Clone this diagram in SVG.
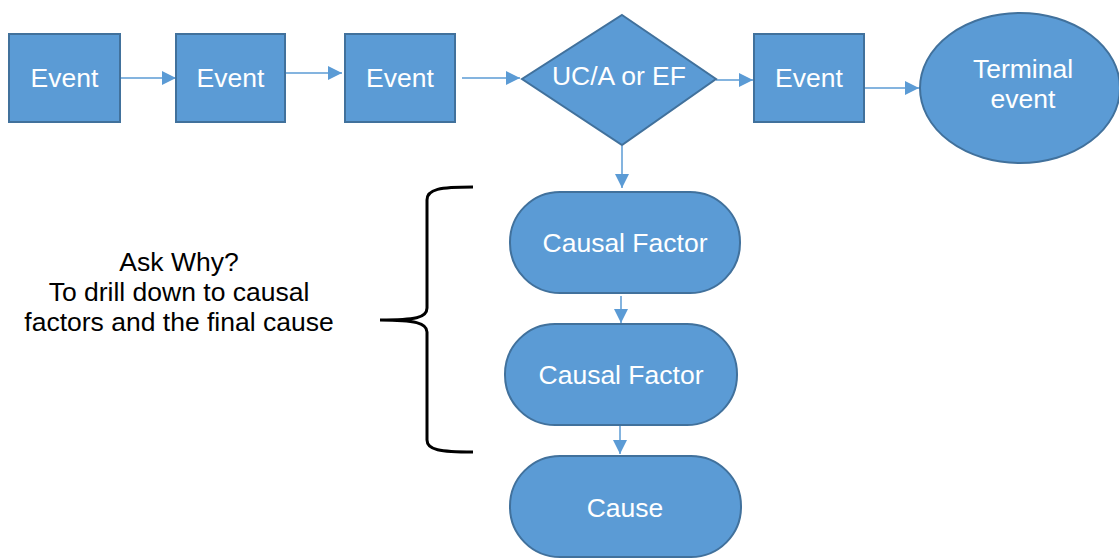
<svg xmlns="http://www.w3.org/2000/svg" width="1119" height="558" viewBox="0 0 1119 558">
<style>
.n{fill:#5B9BD5;stroke:#41719C;stroke-width:2}
.t{font-family:"Liberation Sans",Arial,sans-serif;font-size:26.5px;fill:#fff;text-anchor:middle}
.k{font-family:"Liberation Sans",Arial,sans-serif;font-size:26.5px;fill:#000;text-anchor:middle}
.c{stroke:#5B9BD5;stroke-width:1.5;fill:none;marker-end:url(#ah)}
</style>
<defs>
<marker id="ah" markerWidth="14" markerHeight="14" viewBox="0 0 14 14" refX="14" refY="7" orient="auto" markerUnits="userSpaceOnUse">
<path d="M0,0 L14,7 L0,14 Z" fill="#5B9BD5"/>
</marker>
</defs>
<g id="connectors">
<line class="c" x1="120" y1="78" x2="176" y2="78"/>
<line class="c" x1="285" y1="73" x2="342" y2="73"/>
<line class="c" x1="462" y1="78" x2="520" y2="78"/>
<line class="c" x1="716" y1="80" x2="753" y2="80"/>
<line class="c" x1="864" y1="88" x2="919" y2="88"/>
<line class="c" x1="622" y1="146" x2="622" y2="188"/>
<line class="c" x1="621" y1="296" x2="621" y2="323"/>
<line class="c" x1="620" y1="426" x2="620" y2="454"/>
</g>
<g id="event1"><rect class="n" x="9" y="34" width="111" height="88"/><text class="t" x="64.5" y="87">Event</text></g>
<g id="event2"><rect class="n" x="176" y="34" width="109" height="88"/><text class="t" x="230.5" y="87">Event</text></g>
<g id="event3"><rect class="n" x="345" y="34" width="110" height="88"/><text class="t" x="400" y="87">Event</text></g>
<g id="decision"><polygon class="n" points="622,15 716,79 622,145 522,79"/><text class="t" x="619" y="85">UC/A or EF</text></g>
<g id="event4"><rect class="n" x="754" y="34" width="110" height="88"/><text class="t" x="809" y="87">Event</text></g>
<g id="terminal"><ellipse class="n" cx="1020" cy="88" rx="100" ry="75"/><text class="t" x="1023" y="78">Terminal</text><text class="t" x="1023" y="108">event</text></g>
<g id="cf1"><rect class="n" x="510" y="192" width="230" height="101" rx="50" ry="50"/><text class="t" x="625" y="252">Causal Factor</text></g>
<g id="cf2"><rect class="n" x="505" y="324" width="232" height="101" rx="50" ry="50"/><text class="t" x="621" y="384">Causal Factor</text></g>
<g id="cause"><rect class="n" x="510" y="456" width="231" height="101" rx="50" ry="50"/><text class="t" x="625" y="517">Cause</text></g>
<g id="brace"><path d="M473,187 C440,187 427,189 427,200 L427,308 C427,318 415,320 380,320 C415,320 427,323 427,332 L427,440 C427,450 440,452 473,452" fill="none" stroke="#000" stroke-width="3"/></g>
<g id="note"><text class="k" x="179" y="271">Ask Why?</text><text class="k" x="179" y="301">To drill down to causal</text><text class="k" x="179" y="331">factors and the final cause</text></g>
</svg>
